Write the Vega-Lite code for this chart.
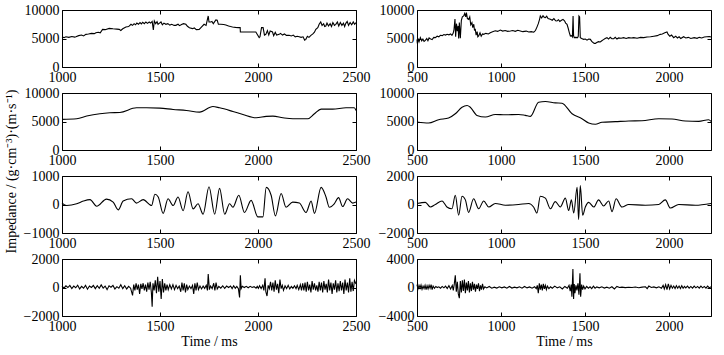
{
"$schema": "https://vega.github.io/schema/vega-lite/v6.json",
"background": "white",
"padding": {"left": 3, "top": 2, "right": 5, "bottom": 5},
"config": {
 "font": "Liberation Serif",
 "numberFormat": "d",
 "view": {"stroke": "black", "strokeWidth": 1},
 "axis": {"grid": false, "domain": false, "ticks": true, "tickSize": -4, "tickColor": "black", "tickWidth": 1, "labelFont": "Liberation Serif", "labelFontSize": 14, "labelColor": "black", "labelPadding": 7, "labelFlush": false, "labelOverlap": false, "format": "d", "titleFont": "Liberation Serif", "titleFontSize": 14, "titleFontWeight": "normal", "titleColor": "black"},
 "axisTop": {"labels": false},
 "axisRight": {"labels": false},
 "line": {"color": "black", "strokeWidth": 1.1}
},
"datasets": {
 "L1": [{"t":1000,"v":5260},{"t":1010,"v":5150},{"t":1020,"v":5300},{"t":1035,"v":5200},{"t":1050,"v":5350},{"t":1065,"v":5250},{"t":1071,"v":5320},{"t":1085,"v":5500},{"t":1100,"v":5600},{"t":1110,"v":5450},{"t":1122,"v":5730},{"t":1135,"v":5800},{"t":1150,"v":5900},{"t":1165,"v":5850},{"t":1173,"v":6020},{"t":1185,"v":6100},{"t":1195,"v":6000},{"t":1207,"v":6600},{"t":1220,"v":6550},{"t":1241,"v":6780},{"t":1260,"v":6700},{"t":1280,"v":6650},{"t":1292,"v":6600},{"t":1300,"v":6400},{"t":1310,"v":6700},{"t":1326,"v":7020},{"t":1340,"v":7100},{"t":1352,"v":7490},{"t":1360,"v":7300},{"t":1368,"v":7600},{"t":1375,"v":7400},{"t":1382,"v":7700},{"t":1390,"v":7500},{"t":1398,"v":7800},{"t":1405,"v":7550},{"t":1412,"v":7850},{"t":1420,"v":7600},{"t":1428,"v":7900},{"t":1436,"v":7650},{"t":1445,"v":7900},{"t":1452,"v":7700},{"t":1460,"v":8000},{"t":1466,"v":6500},{"t":1471,"v":8070},{"t":1478,"v":7600},{"t":1485,"v":7950},{"t":1490,"v":7500},{"t":1496,"v":7660},{"t":1505,"v":7900},{"t":1512,"v":7400},{"t":1520,"v":7700},{"t":1530,"v":7490},{"t":1540,"v":7600},{"t":1550,"v":7350},{"t":1560,"v":7500},{"t":1572,"v":7300},{"t":1581,"v":7310},{"t":1592,"v":7500},{"t":1600,"v":7250},{"t":1610,"v":7450},{"t":1620,"v":7600},{"t":1632,"v":7490},{"t":1640,"v":7150},{"t":1650,"v":6900},{"t":1666,"v":6730},{"t":1675,"v":6850},{"t":1685,"v":6550},{"t":1700,"v":6600},{"t":1710,"v":6950},{"t":1725,"v":7490},{"t":1735,"v":7300},{"t":1746,"v":8950},{"t":1750,"v":7900},{"t":1759,"v":7900},{"t":1765,"v":8000},{"t":1772,"v":7600},{"t":1785,"v":8250},{"t":1792,"v":8200},{"t":1798,"v":7490},{"t":1810,"v":7500},{"t":1825,"v":7450},{"t":1836,"v":7370},{"t":1850,"v":7200},{"t":1860,"v":7100},{"t":1870,"v":7020},{"t":1885,"v":6950},{"t":1900,"v":6900},{"t":1909,"v":6900},{"t":1910,"v":6140},{"t":1950,"v":6140},{"t":1989,"v":6140},{"t":1995,"v":5800},{"t":2006,"v":5150},{"t":2010,"v":5300},{"t":2018,"v":6900},{"t":2026,"v":6900},{"t":2033,"v":5600},{"t":2040,"v":5730},{"t":2048,"v":6400},{"t":2055,"v":5600},{"t":2062,"v":6300},{"t":2074,"v":6140},{"t":2080,"v":5500},{"t":2088,"v":6100},{"t":2095,"v":5600},{"t":2108,"v":5730},{"t":2115,"v":5900},{"t":2125,"v":5600},{"t":2135,"v":5800},{"t":2145,"v":5550},{"t":2159,"v":5560},{"t":2170,"v":5450},{"t":2180,"v":5600},{"t":2190,"v":5300},{"t":2200,"v":5400},{"t":2210,"v":5320},{"t":2220,"v":5200},{"t":2230,"v":5300},{"t":2238,"v":4700},{"t":2244,"v":4850},{"t":2252,"v":5400},{"t":2260,"v":5200},{"t":2270,"v":5560},{"t":2280,"v":5800},{"t":2288,"v":6100},{"t":2295,"v":6600},{"t":2305,"v":6900},{"t":2312,"v":7500},{"t":2320,"v":7900},{"t":2327,"v":7300},{"t":2335,"v":7600},{"t":2340,"v":7100},{"t":2346,"v":7190},{"t":2352,"v":7700},{"t":2360,"v":7200},{"t":2368,"v":7600},{"t":2375,"v":7100},{"t":2382,"v":7800},{"t":2390,"v":7300},{"t":2397,"v":7490},{"t":2405,"v":7900},{"t":2412,"v":7200},{"t":2420,"v":7800},{"t":2428,"v":7300},{"t":2436,"v":7700},{"t":2442,"v":7100},{"t":2448,"v":7660},{"t":2455,"v":8000},{"t":2462,"v":7300},{"t":2470,"v":7800},{"t":2478,"v":7400},{"t":2486,"v":7900},{"t":2493,"v":7500},{"t":2500,"v":7780}],
 "L2": [{"t":1000,"v":5380},{"t":1075,"v":5490},{"t":1126,"v":5950},{"t":1193,"v":6360},{"t":1244,"v":6530},{"t":1295,"v":6590},{"t":1380,"v":7400},{"t":1431,"v":7400},{"t":1499,"v":7340},{"t":1567,"v":7110},{"t":1635,"v":6940},{"t":1702,"v":6650},{"t":1770,"v":7630},{"t":1804,"v":7400},{"t":1872,"v":6760},{"t":1923,"v":6240},{"t":1991,"v":5660},{"t":2042,"v":5900},{"t":2076,"v":5950},{"t":2127,"v":5660},{"t":2178,"v":5490},{"t":2254,"v":5490},{"t":2288,"v":6360},{"t":2322,"v":7170},{"t":2381,"v":7170},{"t":2449,"v":7400},{"t":2491,"v":7400},{"t":2500,"v":6940}],
 "L3": [{"t":1000,"v":50},{"t":1024,"v":-36},{"t":1075,"v":24},{"t":1109,"v":120},{"t":1143,"v":170},{"t":1177,"v":-60},{"t":1227,"v":190},{"t":1261,"v":85},{"t":1287,"v":-190},{"t":1312,"v":120},{"t":1355,"v":200},{"t":1380,"v":50},{"t":1414,"v":170},{"t":1457,"v":-36},{"t":1474,"v":360},{"t":1491,"v":265},{"t":1516,"v":-310},{"t":1541,"v":200},{"t":1567,"v":-36},{"t":1592,"v":265},{"t":1618,"v":-215},{"t":1643,"v":445},{"t":1669,"v":-155},{"t":1694,"v":24},{"t":1720,"v":-340},{"t":1750,"v":625},{"t":1779,"v":-340},{"t":1804,"v":565},{"t":1830,"v":-340},{"t":1855,"v":24},{"t":1872,"v":-96},{"t":1902,"v":325},{"t":1931,"v":-280},{"t":1965,"v":145},{"t":1999,"v":-435},{"t":2025,"v":-435},{"t":2042,"v":600},{"t":2067,"v":325},{"t":2089,"v":-400},{"t":2118,"v":385},{"t":2143,"v":-96},{"t":2177,"v":85},{"t":2211,"v":50},{"t":2245,"v":-280},{"t":2271,"v":120},{"t":2288,"v":-310},{"t":2322,"v":600},{"t":2347,"v":265},{"t":2364,"v":-96},{"t":2389,"v":24},{"t":2411,"v":240},{"t":2432,"v":-72},{"t":2457,"v":200},{"t":2483,"v":50},{"t":2500,"v":85}],
 "L4": [{"t":1000,"v":100},{"t":1010,"v":-50},{"t":1020,"v":120},{"t":1030,"v":0},{"t":1040,"v":150},{"t":1050,"v":-80},{"t":1060,"v":100},{"t":1070,"v":-20},{"t":1080,"v":160},{"t":1090,"v":-100},{"t":1100,"v":80},{"t":1110,"v":-50},{"t":1120,"v":150},{"t":1130,"v":-120},{"t":1140,"v":100},{"t":1150,"v":0},{"t":1160,"v":140},{"t":1170,"v":-80},{"t":1180,"v":120},{"t":1190,"v":-60},{"t":1200,"v":180},{"t":1210,"v":-40},{"t":1220,"v":100},{"t":1230,"v":-150},{"t":1240,"v":120},{"t":1250,"v":20},{"t":1260,"v":150},{"t":1270,"v":-100},{"t":1280,"v":60},{"t":1290,"v":-50},{"t":1300,"v":200},{"t":1310,"v":-80},{"t":1320,"v":120},{"t":1330,"v":-100},{"t":1340,"v":80},{"t":1350,"v":-50},{"t":1360,"v":-550},{"t":1366,"v":200},{"t":1372,"v":-200},{"t":1378,"v":300},{"t":1384,"v":-150},{"t":1390,"v":200},{"t":1396,"v":-450},{"t":1402,"v":250},{"t":1408,"v":-100},{"t":1414,"v":300},{"t":1420,"v":-200},{"t":1426,"v":200},{"t":1432,"v":-300},{"t":1438,"v":350},{"t":1444,"v":-150},{"t":1450,"v":400},{"t":1456,"v":-350},{"t":1460,"v":-1350},{"t":1464,"v":300},{"t":1470,"v":-200},{"t":1476,"v":500},{"t":1482,"v":-400},{"t":1488,"v":750},{"t":1494,"v":-300},{"t":1500,"v":450},{"t":1506,"v":-800},{"t":1512,"v":600},{"t":1518,"v":-350},{"t":1524,"v":300},{"t":1530,"v":-200},{"t":1536,"v":200},{"t":1542,"v":-150},{"t":1550,"v":200},{"t":1558,"v":-100},{"t":1566,"v":200},{"t":1574,"v":-150},{"t":1582,"v":150},{"t":1590,"v":-80},{"t":1598,"v":100},{"t":1606,"v":-300},{"t":1612,"v":350},{"t":1618,"v":-200},{"t":1624,"v":300},{"t":1630,"v":-350},{"t":1636,"v":200},{"t":1642,"v":-150},{"t":1650,"v":100},{"t":1658,"v":-80},{"t":1666,"v":150},{"t":1672,"v":-450},{"t":1678,"v":300},{"t":1684,"v":-200},{"t":1690,"v":350},{"t":1696,"v":-150},{"t":1704,"v":100},{"t":1712,"v":-100},{"t":1720,"v":100},{"t":1728,"v":-60},{"t":1736,"v":150},{"t":1742,"v":-200},{"t":1746,"v":950},{"t":1752,"v":-150},{"t":1758,"v":100},{"t":1766,"v":-80},{"t":1774,"v":300},{"t":1780,"v":-200},{"t":1786,"v":350},{"t":1792,"v":-100},{"t":1800,"v":80},{"t":1810,"v":-50},{"t":1820,"v":120},{"t":1830,"v":-60},{"t":1840,"v":100},{"t":1850,"v":0},{"t":1860,"v":100},{"t":1868,"v":-80},{"t":1876,"v":120},{"t":1884,"v":-50},{"t":1892,"v":80},{"t":1900,"v":-80},{"t":1906,"v":-700},{"t":1910,"v":850},{"t":1914,"v":-80},{"t":1920,"v":80},{"t":1930,"v":0},{"t":1940,"v":80},{"t":1950,"v":-20},{"t":1960,"v":80},{"t":1970,"v":0},{"t":1980,"v":60},{"t":1990,"v":-50},{"t":1996,"v":80},{"t":2002,"v":-60},{"t":2008,"v":120},{"t":2016,"v":-80},{"t":2024,"v":150},{"t":2030,"v":-200},{"t":2036,"v":650},{"t":2040,"v":-300},{"t":2046,"v":-600},{"t":2052,"v":150},{"t":2058,"v":-80},{"t":2064,"v":400},{"t":2070,"v":-200},{"t":2076,"v":350},{"t":2082,"v":-300},{"t":2088,"v":500},{"t":2094,"v":-150},{"t":2100,"v":250},{"t":2106,"v":-400},{"t":2112,"v":550},{"t":2118,"v":-80},{"t":2124,"v":150},{"t":2130,"v":-200},{"t":2138,"v":120},{"t":2146,"v":-80},{"t":2154,"v":150},{"t":2162,"v":-100},{"t":2170,"v":80},{"t":2178,"v":-50},{"t":2186,"v":120},{"t":2194,"v":-80},{"t":2200,"v":150},{"t":2208,"v":-150},{"t":2216,"v":200},{"t":2222,"v":-200},{"t":2228,"v":300},{"t":2234,"v":-200},{"t":2240,"v":350},{"t":2246,"v":-300},{"t":2252,"v":400},{"t":2258,"v":-200},{"t":2264,"v":200},{"t":2270,"v":-350},{"t":2276,"v":450},{"t":2282,"v":-150},{"t":2288,"v":300},{"t":2294,"v":-200},{"t":2300,"v":150},{"t":2306,"v":-300},{"t":2312,"v":400},{"t":2318,"v":-200},{"t":2324,"v":350},{"t":2330,"v":-350},{"t":2336,"v":450},{"t":2342,"v":-150},{"t":2348,"v":250},{"t":2354,"v":-350},{"t":2360,"v":550},{"t":2366,"v":-200},{"t":2372,"v":350},{"t":2378,"v":-450},{"t":2384,"v":300},{"t":2390,"v":-150},{"t":2396,"v":500},{"t":2402,"v":-350},{"t":2408,"v":300},{"t":2414,"v":-250},{"t":2420,"v":450},{"t":2426,"v":-200},{"t":2432,"v":350},{"t":2438,"v":-450},{"t":2444,"v":550},{"t":2450,"v":-200},{"t":2456,"v":350},{"t":2462,"v":-350},{"t":2468,"v":650},{"t":2474,"v":-300},{"t":2480,"v":400},{"t":2486,"v":-250},{"t":2492,"v":500},{"t":2500,"v":250}],
 "R1": [{"t":500,"v":4850},{"t":502,"v":4150},{"t":506,"v":5000},{"t":512,"v":4400},{"t":520,"v":5150},{"t":528,"v":4600},{"t":535,"v":4900},{"t":542,"v":4500},{"t":550,"v":4680},{"t":558,"v":5000},{"t":565,"v":4600},{"t":572,"v":5100},{"t":579,"v":4970},{"t":590,"v":4800},{"t":600,"v":5200},{"t":609,"v":5150},{"t":620,"v":5400},{"t":630,"v":5300},{"t":639,"v":5560},{"t":650,"v":5500},{"t":660,"v":5700},{"t":670,"v":5600},{"t":679,"v":5730},{"t":690,"v":5650},{"t":700,"v":5800},{"t":708,"v":5560},{"t":715,"v":5900},{"t":720,"v":6500},{"t":726,"v":8400},{"t":730,"v":5300},{"t":735,"v":7600},{"t":740,"v":6300},{"t":745,"v":7200},{"t":748,"v":5000},{"t":752,"v":7800},{"t":758,"v":5030},{"t":764,"v":8200},{"t":770,"v":8800},{"t":778,"v":8950},{"t":784,"v":9400},{"t":790,"v":8800},{"t":794,"v":9530},{"t":800,"v":8500},{"t":808,"v":8360},{"t":814,"v":8800},{"t":820,"v":7400},{"t":827,"v":7780},{"t":832,"v":6900},{"t":838,"v":7500},{"t":842,"v":6500},{"t":847,"v":6600},{"t":852,"v":5600},{"t":858,"v":6200},{"t":862,"v":5300},{"t":867,"v":5440},{"t":875,"v":6000},{"t":882,"v":5400},{"t":890,"v":5800},{"t":897,"v":5730},{"t":910,"v":5900},{"t":925,"v":5800},{"t":936,"v":6020},{"t":950,"v":6200},{"t":966,"v":6350},{"t":980,"v":6250},{"t":996,"v":6490},{"t":1010,"v":6300},{"t":1025,"v":6400},{"t":1040,"v":6250},{"t":1056,"v":6320},{"t":1070,"v":6400},{"t":1085,"v":6250},{"t":1100,"v":6450},{"t":1115,"v":6320},{"t":1130,"v":6200},{"t":1150,"v":6300},{"t":1165,"v":6140},{"t":1180,"v":6200},{"t":1195,"v":6100},{"t":1205,"v":6400},{"t":1214,"v":7000},{"t":1222,"v":7600},{"t":1230,"v":8400},{"t":1234,"v":8950},{"t":1242,"v":8600},{"t":1250,"v":9000},{"t":1258,"v":8700},{"t":1264,"v":8650},{"t":1272,"v":8900},{"t":1280,"v":8500},{"t":1294,"v":8360},{"t":1305,"v":8200},{"t":1315,"v":8500},{"t":1325,"v":8100},{"t":1333,"v":8070},{"t":1342,"v":8300},{"t":1350,"v":8000},{"t":1360,"v":8200},{"t":1369,"v":8360},{"t":1378,"v":8100},{"t":1385,"v":7700},{"t":1393,"v":7490},{"t":1400,"v":6800},{"t":1407,"v":6000},{"t":1413,"v":5440},{"t":1420,"v":5500},{"t":1425,"v":5300},{"t":1429,"v":8950},{"t":1432,"v":5500},{"t":1436,"v":5150},{"t":1445,"v":5200},{"t":1456,"v":5150},{"t":1460,"v":5400},{"t":1464,"v":8950},{"t":1468,"v":8800},{"t":1472,"v":5150},{"t":1480,"v":5000},{"t":1492,"v":4850},{"t":1502,"v":4900},{"t":1512,"v":4700},{"t":1522,"v":4900},{"t":1532,"v":4850},{"t":1540,"v":4500},{"t":1548,"v":4300},{"t":1555,"v":4150},{"t":1562,"v":4150},{"t":1570,"v":4300},{"t":1580,"v":4450},{"t":1591,"v":4390},{"t":1600,"v":4600},{"t":1610,"v":4800},{"t":1620,"v":5000},{"t":1631,"v":5150},{"t":1640,"v":4900},{"t":1650,"v":5200},{"t":1660,"v":4950},{"t":1671,"v":4970},{"t":1680,"v":5200},{"t":1690,"v":4900},{"t":1700,"v":5100},{"t":1715,"v":5050},{"t":1730,"v":5150},{"t":1745,"v":5000},{"t":1760,"v":5150},{"t":1775,"v":5100},{"t":1790,"v":5150},{"t":1810,"v":5050},{"t":1830,"v":5200},{"t":1850,"v":5150},{"t":1869,"v":5260},{"t":1890,"v":5300},{"t":1910,"v":5400},{"t":1930,"v":5500},{"t":1948,"v":5730},{"t":1960,"v":5800},{"t":1975,"v":6000},{"t":1988,"v":6140},{"t":1995,"v":5700},{"t":2005,"v":5400},{"t":2015,"v":5600},{"t":2028,"v":5150},{"t":2040,"v":5400},{"t":2050,"v":5100},{"t":2060,"v":5300},{"t":2070,"v":5000},{"t":2087,"v":5320},{"t":2100,"v":5100},{"t":2115,"v":5200},{"t":2130,"v":5000},{"t":2150,"v":5150},{"t":2167,"v":5030},{"t":2180,"v":5200},{"t":2195,"v":5100},{"t":2210,"v":5250},{"t":2225,"v":5300},{"t":2240,"v":5350},{"t":2250,"v":5260}],
 "R2": [{"t":500,"v":4910},{"t":569,"v":4740},{"t":629,"v":5320},{"t":688,"v":5610},{"t":728,"v":6360},{"t":768,"v":7510},{"t":798,"v":7800},{"t":817,"v":7510},{"t":857,"v":6070},{"t":907,"v":5780},{"t":966,"v":6240},{"t":1026,"v":6180},{"t":1105,"v":6240},{"t":1145,"v":6070},{"t":1175,"v":5900},{"t":1224,"v":8380},{"t":1264,"v":8500},{"t":1323,"v":8270},{"t":1363,"v":8210},{"t":1423,"v":6360},{"t":1482,"v":5490},{"t":1522,"v":4740},{"t":1562,"v":4510},{"t":1601,"v":4860},{"t":1681,"v":4970},{"t":1760,"v":5090},{"t":1839,"v":5140},{"t":1939,"v":5490},{"t":2018,"v":5430},{"t":2097,"v":5090},{"t":2177,"v":5030},{"t":2236,"v":5320},{"t":2250,"v":5030}],
 "R3": [{"t":500,"v":75},{"t":550,"v":150},{"t":579,"v":-175},{"t":609,"v":0},{"t":649,"v":250},{"t":678,"v":-175},{"t":708,"v":-300},{"t":728,"v":650},{"t":748,"v":-750},{"t":768,"v":575},{"t":788,"v":325},{"t":807,"v":-550},{"t":837,"v":400},{"t":867,"v":-300},{"t":897,"v":250},{"t":927,"v":-175},{"t":966,"v":75},{"t":1026,"v":-50},{"t":1105,"v":0},{"t":1165,"v":75},{"t":1194,"v":-175},{"t":1214,"v":-600},{"t":1234,"v":575},{"t":1264,"v":450},{"t":1294,"v":-300},{"t":1323,"v":200},{"t":1353,"v":-175},{"t":1383,"v":450},{"t":1403,"v":-425},{"t":1419,"v":325},{"t":1433,"v":-600},{"t":1453,"v":1200},{"t":1462,"v":-1050},{"t":1472,"v":1325},{"t":1486,"v":-750},{"t":1502,"v":-175},{"t":1522,"v":150},{"t":1552,"v":-175},{"t":1581,"v":325},{"t":1611,"v":-100},{"t":1641,"v":250},{"t":1661,"v":-500},{"t":1685,"v":400},{"t":1720,"v":-175},{"t":1760,"v":0},{"t":1859,"v":-50},{"t":1939,"v":0},{"t":1978,"v":325},{"t":2008,"v":-250},{"t":2058,"v":0},{"t":2157,"v":-50},{"t":2250,"v":75}],
 "R4": [{"t":500,"v":400},{"t":506,"v":-200},{"t":512,"v":300},{"t":518,"v":-100},{"t":524,"v":350},{"t":530,"v":-250},{"t":536,"v":200},{"t":542,"v":-150},{"t":548,"v":300},{"t":554,"v":-300},{"t":560,"v":250},{"t":566,"v":-200},{"t":572,"v":300},{"t":578,"v":-100},{"t":584,"v":400},{"t":590,"v":-300},{"t":596,"v":200},{"t":604,"v":-100},{"t":612,"v":150},{"t":620,"v":0},{"t":630,"v":100},{"t":640,"v":-100},{"t":650,"v":150},{"t":660,"v":-50},{"t":670,"v":200},{"t":680,"v":-150},{"t":690,"v":250},{"t":700,"v":-200},{"t":710,"v":300},{"t":716,"v":-400},{"t":722,"v":500},{"t":728,"v":1700},{"t":734,"v":-600},{"t":740,"v":800},{"t":746,"v":-900},{"t":752,"v":-1500},{"t":758,"v":900},{"t":764,"v":-700},{"t":770,"v":1000},{"t":776,"v":-500},{"t":782,"v":1100},{"t":788,"v":-800},{"t":794,"v":700},{"t":800,"v":-400},{"t":806,"v":900},{"t":812,"v":-700},{"t":818,"v":600},{"t":824,"v":-500},{"t":830,"v":800},{"t":836,"v":-300},{"t":842,"v":500},{"t":848,"v":-600},{"t":854,"v":400},{"t":860,"v":-200},{"t":866,"v":600},{"t":872,"v":-500},{"t":878,"v":300},{"t":884,"v":-300},{"t":890,"v":500},{"t":896,"v":-200},{"t":904,"v":100},{"t":915,"v":-50},{"t":930,"v":150},{"t":945,"v":-100},{"t":960,"v":50},{"t":975,"v":-80},{"t":990,"v":100},{"t":1005,"v":-50},{"t":1020,"v":80},{"t":1035,"v":-100},{"t":1050,"v":150},{"t":1065,"v":-80},{"t":1080,"v":50},{"t":1095,"v":-50},{"t":1110,"v":100},{"t":1125,"v":-100},{"t":1140,"v":150},{"t":1155,"v":-50},{"t":1170,"v":80},{"t":1185,"v":-100},{"t":1200,"v":100},{"t":1210,"v":-150},{"t":1216,"v":300},{"t":1222,"v":-800},{"t":1228,"v":600},{"t":1234,"v":-300},{"t":1240,"v":400},{"t":1246,"v":-400},{"t":1252,"v":500},{"t":1258,"v":-200},{"t":1264,"v":300},{"t":1270,"v":-300},{"t":1276,"v":200},{"t":1285,"v":-150},{"t":1295,"v":100},{"t":1305,"v":-100},{"t":1320,"v":200},{"t":1335,"v":-50},{"t":1350,"v":100},{"t":1365,"v":-200},{"t":1380,"v":150},{"t":1395,"v":-100},{"t":1405,"v":300},{"t":1412,"v":-500},{"t":1418,"v":400},{"t":1422,"v":-1300},{"t":1428,"v":2600},{"t":1432,"v":-1600},{"t":1436,"v":500},{"t":1440,"v":-800},{"t":1446,"v":300},{"t":1452,"v":-400},{"t":1458,"v":600},{"t":1464,"v":-1000},{"t":1470,"v":2000},{"t":1474,"v":-1300},{"t":1480,"v":400},{"t":1486,"v":-300},{"t":1492,"v":200},{"t":1500,"v":-200},{"t":1510,"v":150},{"t":1520,"v":-100},{"t":1530,"v":100},{"t":1540,"v":-150},{"t":1550,"v":200},{"t":1560,"v":-100},{"t":1570,"v":80},{"t":1585,"v":-50},{"t":1600,"v":100},{"t":1615,"v":-80},{"t":1630,"v":50},{"t":1645,"v":-100},{"t":1660,"v":100},{"t":1675,"v":-200},{"t":1690,"v":150},{"t":1705,"v":0},{"t":1720,"v":50},{"t":1740,"v":-20},{"t":1760,"v":40},{"t":1780,"v":0},{"t":1800,"v":60},{"t":1820,"v":-30},{"t":1840,"v":50},{"t":1860,"v":100},{"t":1870,"v":-150},{"t":1880,"v":200},{"t":1895,"v":0},{"t":1910,"v":80},{"t":1925,"v":-50},{"t":1940,"v":100},{"t":1955,"v":-100},{"t":1965,"v":300},{"t":1972,"v":-200},{"t":1980,"v":400},{"t":1988,"v":-300},{"t":1996,"v":500},{"t":2004,"v":-200},{"t":2012,"v":300},{"t":2020,"v":-100},{"t":2028,"v":200},{"t":2036,"v":-150},{"t":2044,"v":250},{"t":2052,"v":-100},{"t":2060,"v":200},{"t":2068,"v":-150},{"t":2076,"v":250},{"t":2084,"v":-100},{"t":2092,"v":150},{"t":2100,"v":-50},{"t":2110,"v":200},{"t":2120,"v":-100},{"t":2130,"v":150},{"t":2140,"v":-100},{"t":2150,"v":200},{"t":2160,"v":-50},{"t":2170,"v":150},{"t":2180,"v":-100},{"t":2190,"v":200},{"t":2200,"v":-50},{"t":2210,"v":150},{"t":2220,"v":-100},{"t":2230,"v":200},{"t":2240,"v":-50},{"t":2250,"v":100}]
},
"columns": 2,
"spacing": {"row": 26, "column": 61},
"bounds": "flush",
"concat": [
 {"width": 294, "height": 57, "data": {"name": "L1"}, "resolve": {"axis": {"x": "independent", "y": "independent"}},
  "layer": [
   {"mark": {"type": "line"}, "encoding": {"x": {"field": "t", "type": "quantitative", "scale": {"domain": [1000, 2500], "nice": false, "zero": false}, "axis": {"values": [1000, 1500, 2000, 2500], "title": null}}, "y": {"field": "v", "type": "quantitative", "scale": {"domain": [0, 10000], "nice": false}, "axis": {"values": [0, 5000, 10000], "title": null}}}},
   {"mark": {"type": "line", "opacity": 0}, "encoding": {"x": {"field": "t", "type": "quantitative", "axis": {"orient": "top", "values": [1000, 1500, 2000, 2500], "title": null}}, "y": {"field": "v", "type": "quantitative", "axis": {"orient": "right", "values": [0, 5000, 10000], "title": null}}}}
  ]},
 {"width": 294, "height": 57, "data": {"name": "R1"}, "resolve": {"axis": {"x": "independent", "y": "independent"}},
  "layer": [
   {"mark": {"type": "line"}, "encoding": {"x": {"field": "t", "type": "quantitative", "scale": {"domain": [500, 2250], "nice": false, "zero": false}, "axis": {"values": [500, 1000, 1500, 2000], "title": null}}, "y": {"field": "v", "type": "quantitative", "scale": {"domain": [0, 10000], "nice": false}, "axis": {"values": [0, 5000, 10000], "title": null}}}},
   {"mark": {"type": "line", "opacity": 0}, "encoding": {"x": {"field": "t", "type": "quantitative", "axis": {"orient": "top", "values": [500, 1000, 1500, 2000], "title": null}}, "y": {"field": "v", "type": "quantitative", "axis": {"orient": "right", "values": [0, 5000, 10000], "title": null}}}}
  ]},
 {"width": 294, "height": 57, "data": {"name": "L2"}, "resolve": {"axis": {"x": "independent", "y": "independent"}},
  "layer": [
   {"mark": {"type": "line", "interpolate": "monotone"}, "encoding": {"x": {"field": "t", "type": "quantitative", "scale": {"domain": [1000, 2500], "nice": false, "zero": false}, "axis": {"values": [1000, 1500, 2000, 2500], "title": null}}, "y": {"field": "v", "type": "quantitative", "scale": {"domain": [0, 10000], "nice": false}, "axis": {"values": [0, 5000, 10000], "title": null}}}},
   {"mark": {"type": "line", "opacity": 0}, "encoding": {"x": {"field": "t", "type": "quantitative", "axis": {"orient": "top", "values": [1000, 1500, 2000, 2500], "title": null}}, "y": {"field": "v", "type": "quantitative", "axis": {"orient": "right", "values": [0, 5000, 10000], "title": null}}}}
  ]},
 {"width": 294, "height": 57, "data": {"name": "R2"}, "resolve": {"axis": {"x": "independent", "y": "independent"}},
  "layer": [
   {"mark": {"type": "line", "interpolate": "monotone"}, "encoding": {"x": {"field": "t", "type": "quantitative", "scale": {"domain": [500, 2250], "nice": false, "zero": false}, "axis": {"values": [500, 1000, 1500, 2000], "title": null}}, "y": {"field": "v", "type": "quantitative", "scale": {"domain": [0, 10000], "nice": false}, "axis": {"values": [0, 5000, 10000], "title": null}}}},
   {"mark": {"type": "line", "opacity": 0}, "encoding": {"x": {"field": "t", "type": "quantitative", "axis": {"orient": "top", "values": [500, 1000, 1500, 2000], "title": null}}, "y": {"field": "v", "type": "quantitative", "axis": {"orient": "right", "values": [0, 5000, 10000], "title": null}}}}
  ]},
 {"width": 294, "height": 57, "data": {"name": "L3"}, "resolve": {"axis": {"x": "independent", "y": "independent"}},
  "layer": [
   {"mark": {"type": "line", "interpolate": "monotone"}, "encoding": {"x": {"field": "t", "type": "quantitative", "scale": {"domain": [1000, 2500], "nice": false, "zero": false}, "axis": {"values": [1000, 1500, 2000, 2500], "title": null}}, "y": {"field": "v", "type": "quantitative", "scale": {"domain": [-1000, 1000], "nice": false}, "axis": {"values": [-1000, 0, 1000], "title": "Impedance / (g·cm⁻³)·(m·s⁻¹)", "titleX": -44, "titleY": -5}}}},
   {"mark": {"type": "line", "opacity": 0}, "encoding": {"x": {"field": "t", "type": "quantitative", "axis": {"orient": "top", "values": [1000, 1500, 2000, 2500], "title": null}}, "y": {"field": "v", "type": "quantitative", "axis": {"orient": "right", "values": [-1000, 0, 1000], "title": null}}}}
  ]},
 {"width": 294, "height": 57, "data": {"name": "R3"}, "resolve": {"axis": {"x": "independent", "y": "independent"}},
  "layer": [
   {"mark": {"type": "line", "interpolate": "monotone"}, "encoding": {"x": {"field": "t", "type": "quantitative", "scale": {"domain": [500, 2250], "nice": false, "zero": false}, "axis": {"values": [500, 1000, 1500, 2000], "title": null}}, "y": {"field": "v", "type": "quantitative", "scale": {"domain": [-2000, 2000], "nice": false}, "axis": {"values": [-2000, 0, 2000], "title": null}}}},
   {"mark": {"type": "line", "opacity": 0}, "encoding": {"x": {"field": "t", "type": "quantitative", "axis": {"orient": "top", "values": [500, 1000, 1500, 2000], "title": null}}, "y": {"field": "v", "type": "quantitative", "axis": {"orient": "right", "values": [-2000, 0, 2000], "title": null}}}}
  ]},
 {"width": 294, "height": 57, "data": {"name": "L4"}, "resolve": {"axis": {"x": "independent", "y": "independent"}},
  "layer": [
   {"mark": {"type": "line"}, "encoding": {"x": {"field": "t", "type": "quantitative", "scale": {"domain": [1000, 2500], "nice": false, "zero": false}, "axis": {"values": [1000, 1500, 2000, 2500], "title": "Time / ms", "titlePadding": 1}}, "y": {"field": "v", "type": "quantitative", "scale": {"domain": [-2000, 2000], "nice": false}, "axis": {"values": [-2000, 0, 2000], "title": null}}}},
   {"mark": {"type": "line", "opacity": 0}, "encoding": {"x": {"field": "t", "type": "quantitative", "axis": {"orient": "top", "values": [1000, 1500, 2000, 2500], "title": null}}, "y": {"field": "v", "type": "quantitative", "axis": {"orient": "right", "values": [-2000, 0, 2000], "title": null}}}}
  ]},
 {"width": 294, "height": 57, "data": {"name": "R4"}, "resolve": {"axis": {"x": "independent", "y": "independent"}},
  "layer": [
   {"mark": {"type": "line"}, "encoding": {"x": {"field": "t", "type": "quantitative", "scale": {"domain": [500, 2250], "nice": false, "zero": false}, "axis": {"values": [500, 1000, 1500, 2000], "title": "Time / ms", "titlePadding": 1}}, "y": {"field": "v", "type": "quantitative", "scale": {"domain": [-4000, 4000], "nice": false}, "axis": {"values": [-4000, 0, 4000], "title": null}}}},
   {"mark": {"type": "line", "opacity": 0}, "encoding": {"x": {"field": "t", "type": "quantitative", "axis": {"orient": "top", "values": [500, 1000, 1500, 2000], "title": null}}, "y": {"field": "v", "type": "quantitative", "axis": {"orient": "right", "values": [-4000, 0, 4000], "title": null}}}}
  ]}
]
}
